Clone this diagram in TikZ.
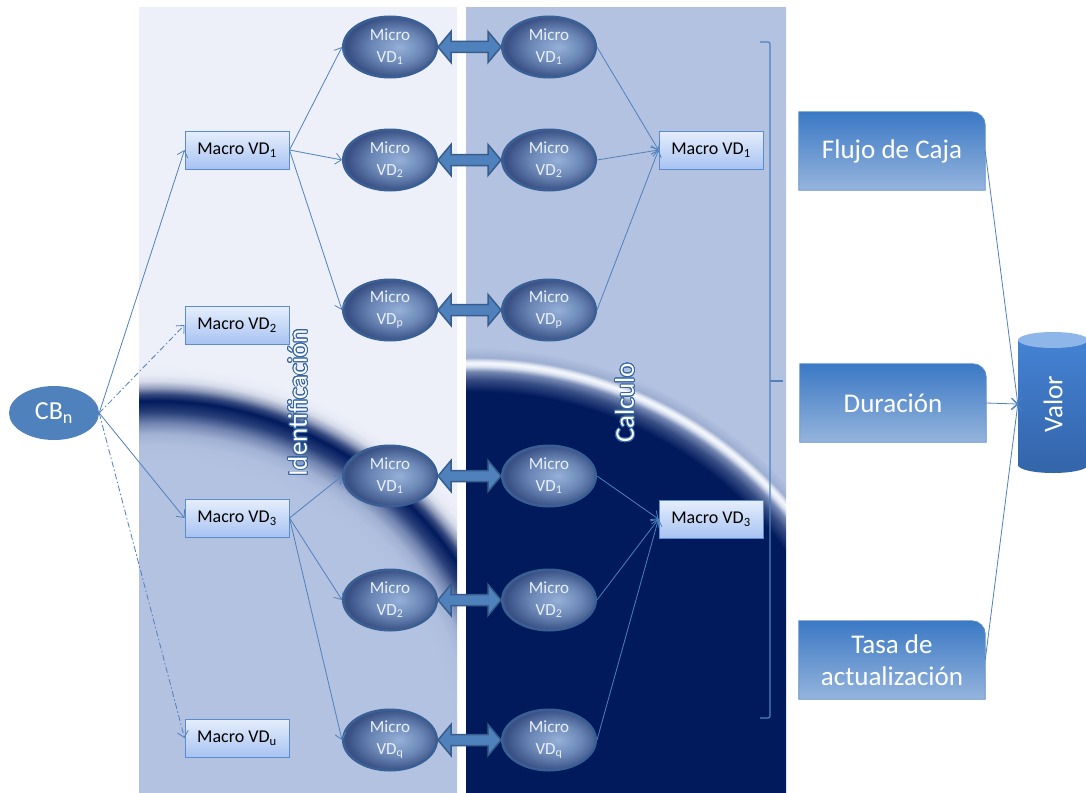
\documentclass[tikz,border=0pt]{standalone}
\usepackage{fontspec}
\setmainfont{Carlito}
\usepackage[copies]{contour}
\contourlength{0.9pt}
\contournumber{24}
\usetikzlibrary{arrows.meta,shapes.geometric,calc}
\pgfdeclarelayer{bg}
\pgfdeclarelayer{shapes}
\pgfsetlayers{bg,shapes,main}
\definecolor{pLight}{HTML}{EDF0F9}
\definecolor{pMid}{HTML}{B3C2E1}
\definecolor{pNavy}{HTML}{011A5C}
\definecolor{acc}{HTML}{4F81BD}
\definecolor{accDark}{HTML}{385D8A}
\definecolor{boxTop}{HTML}{E6EEFC}
\definecolor{boxBot}{HTML}{A7C3F2}
\definecolor{boxLine}{HTML}{5B8CCF}
\definecolor{mLight}{HTML}{95B0D8}
\definecolor{mMid}{HTML}{6A86B5}
\definecolor{mDark}{HTML}{3A5185}
\definecolor{mLine}{HTML}{3A5F94}
\definecolor{mText}{HTML}{EAF0FA}
\definecolor{rTop}{HTML}{3B79C5}
\definecolor{rBot}{HTML}{95B4DC}
\definecolor{rLine}{HTML}{5D8DCC}
\definecolor{cylTop}{HTML}{8EB6E8}
\definecolor{cylA}{HTML}{4482D3}
\definecolor{cylB}{HTML}{3466AC}
\definecolor{outl}{HTML}{3566A6}
% band colours for the left panel
\colorlet{bM02}{pNavy!2!pMid}
\colorlet{bM10}{pNavy!10!pMid}
\colorlet{bM37}{pNavy!37!pMid}
\colorlet{bM78}{pNavy!78!pMid}
\colorlet{bL78}{pNavy!78!pLight}
\colorlet{bL37}{pNavy!37!pLight}
\colorlet{bL10}{pNavy!10!pLight}
\colorlet{bL02}{pNavy!2!pLight}
% glow colours for the right panel
\colorlet{gN70}{pNavy!70!pMid}
\colorlet{gN35}{pNavy!35!pMid}
\colorlet{gW50}{white!50!pMid}
\colorlet{gW90}{white!90!pMid}
\colorlet{gN12}{pNavy!12!pMid}
\pgfdeclareradialshading{leftband}{\pgfpoint{0bp}{0bp}}{color(0bp)=(pMid); color(298bp)=(pMid);
  color(315bp)=(bM02); color(326bp)=(bM10); color(337bp)=(bM37); color(348bp)=(bM78); color(359bp)=(pNavy);
  color(365.5bp)=(bL78); color(372bp)=(bL37); color(378.5bp)=(bL10); color(385bp)=(bL02); color(394bp)=(pLight);
  color(830bp)=(pLight)}
\pgfdeclareradialshading{rightglow}{\pgfpoint{0bp}{0bp}}{color(0bp)=(pNavy); color(380bp)=(pNavy);
  color(392bp)=(gN70); color(400bp)=(gN35); color(405bp)=(gW50); color(408.5bp)=(gW90); color(411bp)=(gW50);
  color(414bp)=(gN12); color(424bp)=(pMid); color(840bp)=(pMid)}
\pgfdeclareradialshading{microsh}{\pgfpoint{5bp}{0bp}}{color(0bp)=(mLight); color(14bp)=(mMid); color(25bp)=(mDark); color(50bp)=(mDark)}
\newcommand\dblarr[2]{\path[dblarrow] let \p1=(#1.east), \p2=(#2.west) in
  (\x1,\y1) -- (\x1+13pt,\y1+15.5pt) -- (\x1+13pt,\y1+5.5pt) -- (\x2-13pt,\y1+5.5pt) -- (\x2-13pt,\y1+15.5pt)
  -- (\x2,\y1) -- (\x2-13pt,\y1-15.5pt) -- (\x2-13pt,\y1-5.5pt) -- (\x1+13pt,\y1-5.5pt) -- (\x1+13pt,\y1-15.5pt) -- cycle;}
\newcommand\rbox[1]{\path[rshape] (#1.south west) -- (#1.north west) -- ($(#1.north east)+(-13pt,0)$)
  .. controls ($(#1.north east)+(-6pt,0)$) and ($(#1.north east)+(0,-6pt)$) .. ($(#1.north east)+(0,-13pt)$)
  -- (#1.south east) -- cycle;}
\begin{document}
\begin{tikzpicture}[x=1pt,y=-1pt,
  micro/.style={ellipse, minimum width=93.5pt, minimum height=60.5pt, inner sep=0pt, draw=mLine, line width=2.5pt,
    shade, shading=microsh, text=mText, font=\fontsize{17}{21.5}\selectfont, align=center},
  macro/.style={rectangle, minimum width=104pt, minimum height=38pt, inner sep=0pt, draw=boxLine, line width=1pt,
    top color=boxTop, bottom color=boxBot, font=\fontsize{18}{21}\selectfont, text=black},
  rnode/.style={rectangle, minimum width=186pt, minimum height=78pt, inner sep=0pt, text=white,
    font=\fontsize{27}{32}\selectfont, align=center},
  rshape/.style={top color=rTop, bottom color=rBot, draw=rLine, line width=0.8pt},
  conn/.style={draw=acc, line width=0.8pt, -{Straight Barb[length=6pt,width=11pt]}},
  dconn/.style={conn, dash pattern=on 6pt off 2.5pt on 1.5pt off 2.5pt},
  dblarrow/.style={fill=acc, draw=accDark, line width=1.5pt},
  vlabel/.style={rotate=90, text=white, font=\fontsize{27}{32}\selectfont}]
\useasboundingbox (0,0) rectangle (1086,792);

% ---------- backgrounds ----------
\begin{pgfonlayer}{bg}
\fill[white] (0,0) rectangle (1086,792);
\begin{scope}
  \clip (139,8) rectangle (457,792);
  \node[inner sep=0pt, outer sep=0pt] (bgleft) at (156,761) {\pgfuseshading{leftband}};
\end{scope}
\begin{scope}
  \clip (466,8) rectangle (786,792);
  \node[inner sep=0pt, outer sep=0pt] (bgright) at (475,773) {\pgfuseshading{rightglow}};
\end{scope}
\end{pgfonlayer}

% ---------- labels of the panels ----------
\node[vlabel] (ident) at (298,403) {\contour{outl}{Identificación}};
\node[vlabel] (calc) at (625,403) {\contour{outl}{Calculo}};

% ---------- nodes ----------
\node[ellipse, minimum width=90pt, minimum height=54pt, inner sep=0pt, fill=acc, text=white,
  font=\fontsize{26}{30}\selectfont] (cb) at (54,413) {CB\textsubscript{n}};

\node[macro] (ma1) at (237,150) {Macro VD\textsubscript{1}};
\node[macro] (ma2) at (237,325) {Macro VD\textsubscript{2}};
\node[macro] (ma3) at (237,518) {Macro VD\textsubscript{3}};
\node[macro] (mau) at (237,738) {Macro VD\textsubscript{u}};

\node[micro] (lm1) at (390,47) {Micro\\VD\textsubscript{1}};
\node[micro] (lm2) at (390,160) {Micro\\VD\textsubscript{2}};
\node[micro] (lmp) at (390,310) {Micro\\VD\textsubscript{p}};
\node[micro] (lm31) at (390,476) {Micro\\VD\textsubscript{1}};
\node[micro] (lm32) at (390,600) {Micro\\VD\textsubscript{2}};
\node[micro] (lmq) at (390,740) {Micro\\VD\textsubscript{q}};

\node[micro] (rm1) at (549,47) {Micro\\VD\textsubscript{1}};
\node[micro] (rm2) at (549,160) {Micro\\VD\textsubscript{2}};
\node[micro] (rmp) at (549,310) {Micro\\VD\textsubscript{p}};
\node[micro] (rm31) at (549,476) {Micro\\VD\textsubscript{1}};
\node[micro] (rm32) at (549,600) {Micro\\VD\textsubscript{2}};
\node[micro] (rmq) at (549,740) {Micro\\VD\textsubscript{q}};

\node[macro] (mr1) at (711,150) {Macro VD\textsubscript{1}};
\node[macro] (mr3) at (711,519) {Macro VD\textsubscript{3}};

\node[rnode] (flujo) at (892,151) {Flujo de Caja};
\node[rnode] (dur) at (893,403) {Duración};
\node[rnode] (tasa) at (892,660) {Tasa de\\actualización};
\begin{pgfonlayer}{shapes}
\rbox{flujo}
\rbox{dur}
\rbox{tasa}
% cylinder "Valor"
\fill[cylB] (1053,465) ellipse[x radius=35pt, y radius=8pt];
\shade[top color=cylA, bottom color=cylB] (1018,340) rectangle (1088,465);
\fill[cylTop] (1053,340) ellipse[x radius=35pt, y radius=8pt];
\end{pgfonlayer}
\node[minimum width=70pt, minimum height=130pt, inner sep=0pt, text=white,
  font=\fontsize{27}{32}\selectfont] (valor) at (1053,404) {\rotatebox{90}{Valor}};

% ---------- connectors ----------
\draw[conn] (cb.east) -- (ma1.west);
\draw[dconn] (cb.east) -- (ma2.west);
\draw[conn] (cb.east) -- (ma3.west);
\draw[dconn] (cb.east) -- (mau.west);

\foreach \m in {lm1,lm2,lmp} \draw[conn] (ma1.east) -- (\m.west);
\foreach \m in {lm31,lm32,lmq} \draw[conn] (ma3.east) -- (\m.west);
\foreach \m in {rm1,rm2,rmp} \draw[conn] (\m.east) -- (mr1.west);
\foreach \m in {rm31,rm32,rmq} \draw[conn] (\m.east) -- (mr3.west);

\dblarr{lm1}{rm1}
\dblarr{lm2}{rm2}
\dblarr{lmp}{rmp}
\dblarr{lm31}{rm31}
\dblarr{lm32}{rm32}
\dblarr{lmq}{rmq}

\draw[conn] (flujo.east) -- (valor.west);
\draw[conn] (dur.east) -- (valor.west);
\draw[conn] (tasa.east) -- (valor.west);

% ---------- bracket ----------
\draw[acc, line width=1.2pt, rounded corners=2pt] (760,42) -- (770,42) -- (770,718) -- (760,718);
\draw[acc, line width=1.2pt] (770,381) -- (783,381);
\end{tikzpicture}
\end{document}
